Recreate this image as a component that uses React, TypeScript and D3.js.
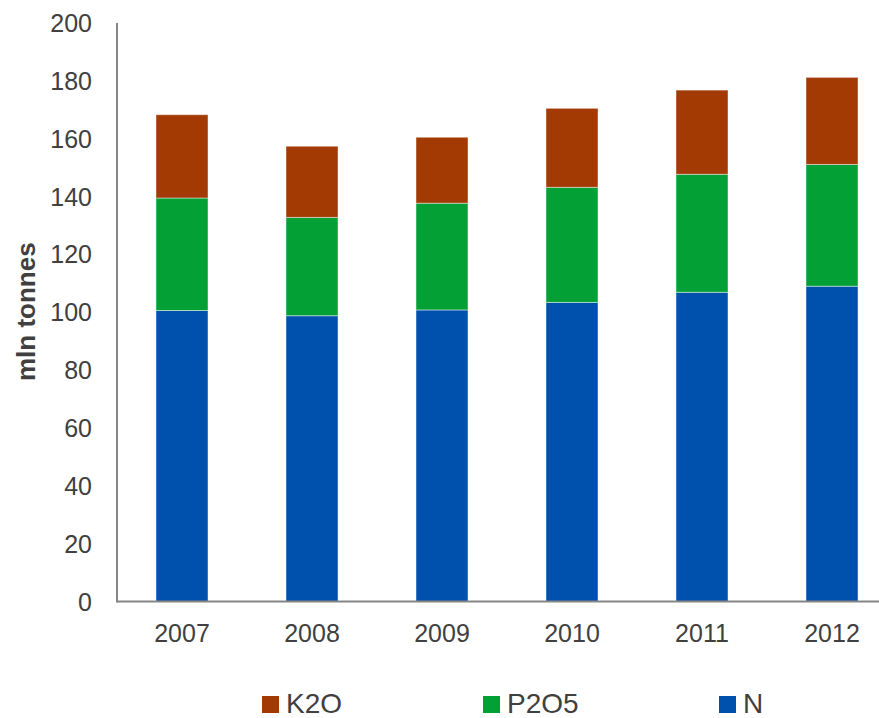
import React from "react";
import * as d3 from "d3";

const years = ["2007", "2008", "2009", "2010", "2011", "2012"];
const nValues = [100.6, 98.8, 100.8, 103.4, 106.9, 109.0];
const p2o5Values = [38.9, 34.0, 36.9, 39.8, 40.8, 42.1];
const k2oValues = [28.8, 24.6, 22.8, 27.3, 29.1, 30.1];
const seriesNames = ["N", "P2O5", "K2O"];
const seriesColors = ["#0050AE", "#03A035", "#A33A04"];
const yTicks = [0, 20, 40, 60, 80, 100, 120, 140, 160, 180, 200];
const legendOrder = ["K2O", "P2O5", "N"];

const W = 879;
const H = 718;

export default function App() {
  const x = d3.scaleBand<string>().domain(years).range([117, 897]).paddingInner(0.6).paddingOuter(0.3);
  const y = d3.scaleLinear().domain([0, 200]).range([601.5, 23]);

  const rows = years.map((yr, i) => ({ year: yr, N: nValues[i], P2O5: p2o5Values[i], K2O: k2oValues[i] }));
  const stack = d3.stack<any>().keys(seriesNames);
  const layers = stack(rows);
  const color = d3.scaleOrdinal<string, string>().domain(seriesNames).range(seriesColors);

  const font = "Liberation Sans, Arial, sans-serif";
  const legendX = [262, 483, 719];

  return (
    <svg width={W} height={H} style={{ position: "absolute", left: 0, top: 0 }} fontFamily={font}>
      <rect width={W} height={H} fill="#fff" />
      {layers.map((layer) => (
        <g key={layer.key} fill={color(layer.key)}>
          {layer.map((d, i) => (
            <rect
              key={i}
              x={x(years[i])}
              width={x.bandwidth()}
              y={y(d[1])}
              height={y(d[0]) - y(d[1])}
              stroke="rgba(255,255,255,0.45)"
              strokeWidth={1}
            />
          ))}
        </g>
      ))}
      <line x1={117} x2={W} y1={601.5} y2={601.5} stroke="#868686" strokeWidth={2} />
      <line x1={117} x2={117} y1={23} y2={602.5} stroke="#868686" strokeWidth={2} />
      {yTicks.map((t) => (
        <text key={t} x={92} y={y(t)} dy="0.36em" textAnchor="end" fontSize={25} fill="#404040">
          {t}
        </text>
      ))}
      {years.map((yr) => (
        <text key={yr} x={(x(yr) as number) + x.bandwidth() / 2} y={642} textAnchor="middle" fontSize={25} fill="#404040">
          {yr}
        </text>
      ))}
      <text
        transform="translate(35,311.7) rotate(-90)"
        textAnchor="middle"
        fontSize={26}
        fontWeight="bold"
        fill="#404040"
      >
        mln tonnes
      </text>
      {legendOrder.map((name, i) => (
        <g key={name}>
          <rect x={legendX[i]} y={696} width={17} height={17} fill={color(name)} />
          <text x={legendX[i] + 24} y={713} fontSize={28} fill="#404040">
            {name}
          </text>
        </g>
      ))}
    </svg>
  );
}
